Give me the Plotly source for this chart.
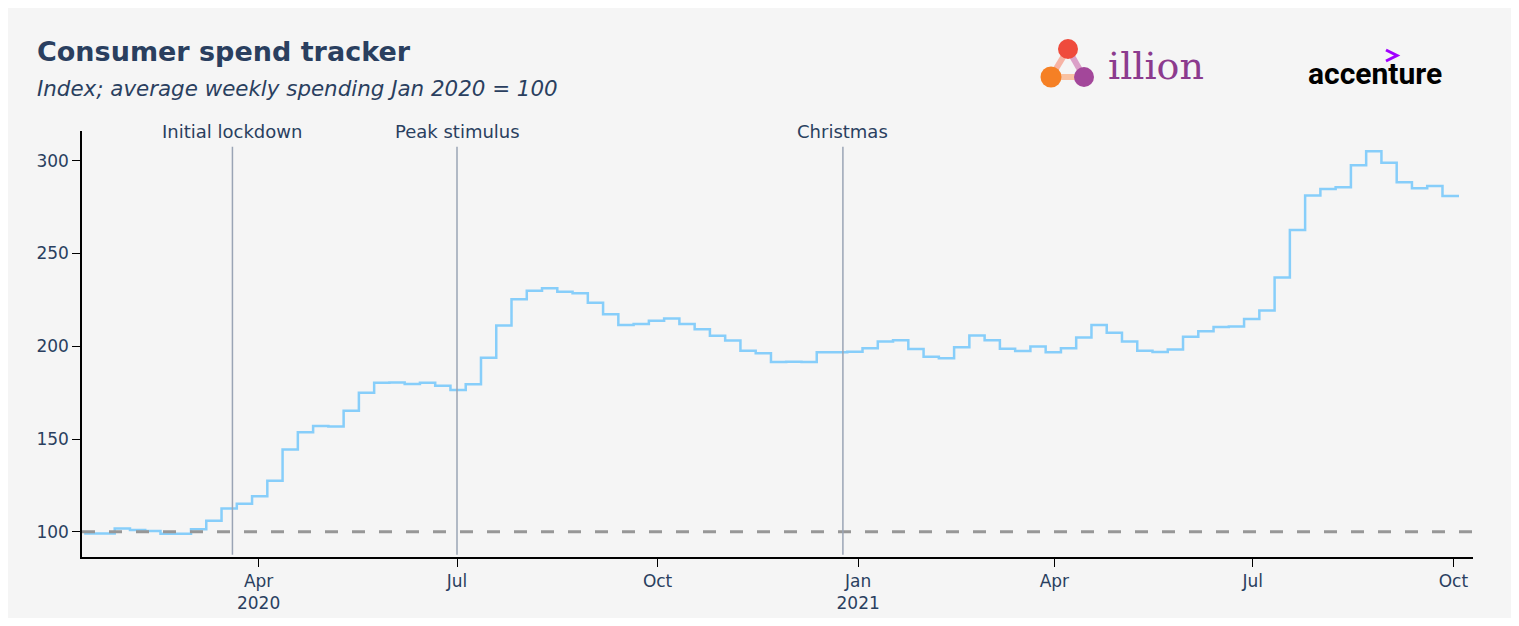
import pandas as pd
import plotly.graph_objects as go

# weekly consumer spend index (Jan 2020 = 100), weeks starting 12 Jan 2020
first_week = "2020-01-12"
spend_index = [
    99.1, 99.1, 101.8, 100.9, 100.4, 98.9, 98.9, 101.3, 105.9, 112.6,
    115.1, 119.2, 127.5, 144.4, 153.6, 157.0, 156.8, 165.2, 174.9, 180.3,
    180.5, 179.6, 180.3, 178.7, 176.4, 179.5, 193.8, 211.2, 225.3, 229.9,
    231.2, 229.4, 228.5, 223.4, 217.2, 211.4, 212.0, 213.7, 215.0, 212.0,
    209.1, 205.6, 203.1, 197.6, 196.2, 191.5, 191.6, 191.5, 196.7, 196.7,
    197.0, 198.9, 202.6, 203.2, 198.5, 194.3, 193.5, 199.5, 205.8, 203.2,
    198.6, 197.4, 199.8, 196.7, 198.9, 204.7, 211.4, 207.3, 202.5, 197.6,
    196.9, 198.3, 205.1, 208.1, 210.3, 210.6, 214.7, 219.2, 237.1, 262.6,
    281.3, 284.7, 285.7, 297.5, 305.1, 298.9, 288.4, 285.1, 286.4, 281.0,
    280.3,
]
weeks = pd.date_range(first_week, periods=len(spend_index), freq="7D")

baseline = 100
event_dates = ["2020-03-20", "2020-07-01", "2020-12-25"]
event_labels = ["Initial lockdown", "Peak stimulus", "Christmas"]

tick_dates = ["2020-04-01", "2020-07-01", "2020-10-01", "2021-01-01", "2021-04-01", "2021-07-01", "2021-10-01"]
tick_labels = ["Apr<br>2020", "Jul", "Oct", "Jan<br>2021", "Apr", "Jul", "Oct"]

# page is drawn with an 8px body margin, so the figure is 16px smaller than the window
W, H = 1503, 610
OFF = 8
L, R, T, B = 82, 1473, 131, 557   # plot area in window pixels
BG = "#f5f5f5"
TEXT = "#2a3f5f"


def px(x):
    return (x - L) / (R - L)


def py(y):
    return (B - y) / (B - T)


fig = go.Figure()
fig.add_trace(go.Scatter(x=weeks, y=spend_index, mode="lines", line=dict(color="#87cefa", width=2.5, shape="hv"),
                         name="Consumer spend", showlegend=False))

shapes = []
# baseline
shapes.append(dict(type="line", xref="paper", yref="y", x0=0, x1=1, y0=baseline, y1=baseline,
                   line=dict(color="#979797", width=3, dash="13px,14px")))
annotations = []
for d, lab in zip(event_dates, event_labels):
    shapes.append(dict(type="line", xref="x", yref="paper", x0=d, x1=d, y0=0.005, y1=0.963,
                       line=dict(color="#9aa4b5", width=1.5)))
    annotations.append(dict(x=d, y=0.998, xref="x", yref="paper", text=lab, showarrow=False,
                            xanchor="center", yanchor="middle", font=dict(size=18, color=TEXT)))

# illion logo
for (x0, y0, x1, y1, c) in [(1068, 49, 1051, 77, "#f7b3a4"), (1068, 49, 1084, 77, "#dba0c8"),
                            (1051, 77, 1084, 77, "#f9c2a2")]:
    shapes.append(dict(type="line", xref="paper", yref="paper", x0=px(x0), y0=py(y0), x1=px(x1), y1=py(y1),
                       line=dict(color=c, width=6)))
for (cx, cy, r, c) in [(1068, 49, 10, "#ef4b3c"), (1051, 77, 10.5, "#f58025"), (1084, 77, 10, "#a3479a")]:
    shapes.append(dict(type="circle", xref="paper", yref="paper", x0=px(cx - r), x1=px(cx + r),
                       y0=py(cy + r), y1=py(cy - r), fillcolor=c, line=dict(width=0)))
annotations.append(dict(x=px(1156), y=py(66), xref="paper", yref="paper", text="illion", showarrow=False,
                        xanchor="center", yanchor="middle", font=dict(family="DejaVu Serif", size=38, color="#8c3b8e")))
# accenture logo (chevron drawn as a small path)
annotations.append(dict(x=px(1375), y=py(73), xref="paper", yref="paper", text="<b>accenture</b>", showarrow=False,
                        xanchor="center", yanchor="middle", font=dict(family="Roboto", size=30, color="#000000")))
shapes.append(dict(type="path", xref="paper", yref="paper",
                   path="M {} {} L {} {} L {} {}".format(px(1386), py(50), px(1397), py(55.5), px(1386), py(61)),
                   line=dict(color="#a100ff", width=3)))

# subtitle
annotations.append(dict(x=px(35), y=py(88), xref="paper", yref="paper",
                        text="<i>Index; average weekly spending Jan 2020 = 100</i>", showarrow=False,
                        xanchor="left", yanchor="middle", font=dict(size=21.4, color=TEXT)))

fig.update_layout(
    width=W, height=H,
    margin=dict(l=L - OFF, r=W - (R - OFF), t=T - OFF, b=H - (B - OFF)),
    paper_bgcolor=BG, plot_bgcolor=BG,
    font=dict(family="DejaVu Sans", size=17, color=TEXT),
    title=dict(text="<b>Consumer spend tracker</b>", x=(37 - OFF) / W, xref="container", xanchor="left",
               y=1 - (52 - OFF) / H, yref="container", yanchor="middle", font=dict(size=27, color=TEXT)),
    shapes=shapes, annotations=annotations,
    showlegend=False,
)
fig.update_xaxes(type="date", range=["2020-01-11", "2021-10-10"], tickvals=tick_dates, ticktext=tick_labels,
                 automargin=False, showgrid=False, zeroline=False, showline=True, linecolor="#000000",
                 linewidth=1.5, ticks="outside", ticklen=8, tickwidth=1.2, tickcolor="#000000")
fig.update_yaxes(range=[86.4, 316], dtick=50, tick0=0, automargin=False, showgrid=False, zeroline=False,
                 showline=True, linecolor="#000000", linewidth=1.5,
                 ticks="outside", ticklen=8, tickwidth=1.2, tickcolor="#000000")

fig.write_html("out.html")
